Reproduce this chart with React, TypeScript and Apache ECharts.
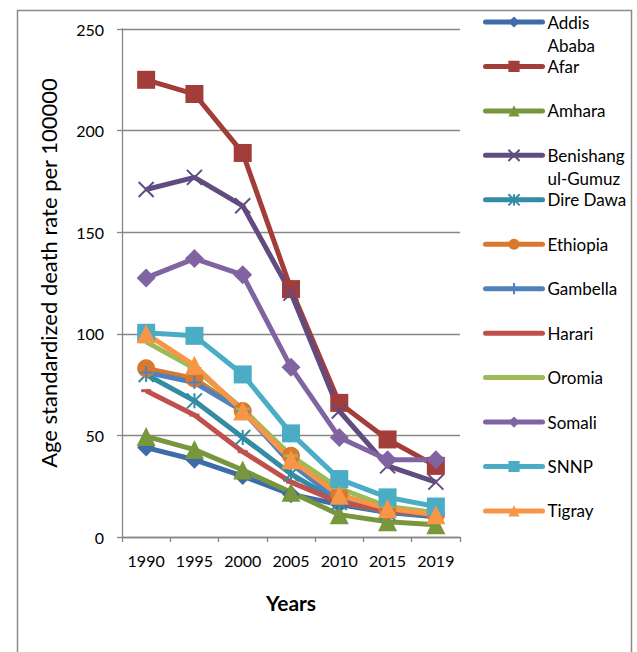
import React, { useEffect, useRef } from "react";
import * as echarts from "echarts";

const years = ["1990", "1995", "2000", "2005", "2010", "2015", "2019"];
const regionNames = [
  "Addis Ababa", "Afar", "Amhara", "Benishangul-Gumuz", "Dire Dawa", "Ethiopia",
  "Gambella", "Harari", "Oromia", "Somali", "SNNP", "Tigray",
];
const legendLabels = [
  "\nAddis\nAbaba", "Afar", "Amhara", "\nBenishang\nul-Gumuz", "Dire Dawa", "Ethiopia",
  "Gambella", "Harari", "Oromia", "Somali", "SNNP", "Tigray",
];
const addisAbaba = [44, 38, 30, 21, 16, 12, 10];
const afar = [225, 218, 189, 122, 66, 48, 35];
const amhara = [49.5, 43, 33, 22, 11, 7.5, 6];
const benishangul = [171, 177, 163, 120, 62, 35, 27];
const direDawa = [80, 67, 49, 31, 17, 12, 11];
const ethiopia = [83, 78, 62, 40, 21, 13, 11];
const gambella = [81, 76, 62, 36, 18, 13, 11];
const harari = [72, 60, 42, 27, 17, 13, 11];
const oromia = [96, 83, 63, 40, 24, 15, 12];
const somali = [127.5, 137, 129, 83.5, 49, 38, 38];
const snnp = [100.5, 99, 80, 51, 28.5, 19.5, 15];
const tigray = [100, 84.5, 62, 38, 20.5, 14, 11];
const seriesValues = [
  addisAbaba, afar, amhara, benishangul, direDawa, ethiopia,
  gambella, harari, oromia, somali, snnp, tigray,
];

const colors = [
  "#3E6CA8", "#A23D3A", "#78973D", "#624C7F", "#338CA3", "#D9782F",
  "#4F81BD", "#C0504D", "#9BBB59", "#8064A2", "#4BACC6", "#F79646",
];
const X_SYM = "path://M0,0L16,16M16,0L0,16";
const STAR_SYM = "path://M0,0L16,16M16,0L0,16M8,0L8,16";
const PLUS_SYM = "path://M8,0L8,16M0,8L16,8";
const DASH_SYM = "path://M0,0L10,0L10,3L0,3Z";
const LDASH_SYM = "path://M0,0L16,0L16,3L0,3Z";
const symbols = [
  "diamond", "rect", "triangle", X_SYM, STAR_SYM, "circle",
  PLUS_SYM, DASH_SYM, LDASH_SYM, "diamond", "rect", "triangle",
];
const symbolSizes = [18, 18, 19, 15, 15, 18, 13, 10, 14, 19, 18, 19];
const strokeSymbols = [false, false, false, true, true, false, true, false, false, false, false, false];
const hiddenLegendSymbol = [false, false, false, false, false, false, false, true, true, false, false, false];

const FONT = "Lato, 'Noto Sans', sans-serif";

export default function App() {
  const ref = useRef<HTMLDivElement>(null);
  useEffect(() => {
    if (!ref.current) return;
    const chart = echarts.init(ref.current, undefined, { renderer: "svg" });
    const series = regionNames.map((name, i) => ({
      name,
      type: "line",
      data: seriesValues[i],
      symbol: symbols[i],
      symbolSize: symbolSizes[i],
      symbolKeepAspect: true,
      showAllSymbol: true,
      lineStyle: { color: colors[i], width: 5 },
      itemStyle: strokeSymbols[i]
        ? { color: colors[i], borderColor: colors[i], borderWidth: 2 }
        : { color: colors[i], borderWidth: 0 },
      emphasis: { disabled: true },
    }));
    const legends = regionNames.map((name, i) => {
      const center = 22 + i * 44.45;
      const three = legendLabels[i].split("\n").length === 3;
      const lg: any = {
        data: [name],
        left: 478,
        top: three ? center - 39.5 : center - 15,
        orient: "vertical",
        itemWidth: 57,
        itemHeight: 14,
        selectedMode: false,
        lineStyle: { width: 5, cap: "round" },
        formatter: () => legendLabels[i],
        textStyle: {
          fontFamily: FONT,
          fontSize: 17,
          color: "#000",
          lineHeight: three ? 23 : 20,
          backgroundColor: "rgba(0,0,0,0)",
        },
      };
      if (hiddenLegendSymbol[i]) {
        lg.itemStyle = { color: "rgba(0,0,0,0)", borderWidth: 0, opacity: 0 };
      }
      return lg;
    });
    chart.setOption({
      animation: false,
      backgroundColor: "#fff",
      textStyle: { fontFamily: FONT },
      grid: { left: 122, right: 177, top: 29, bottom: 115, containLabel: false },
      graphic: [
        {
          type: "rect",
          left: 15,
          top: 8,
          shape: { width: 614, height: 700 },
          style: { fill: "none", stroke: "#8a8a8a", lineWidth: 1.5 },
          silent: true,
        },
      ],
      legend: legends,
      xAxis: {
        type: "category",
        data: years,
        boundaryGap: true,
        name: "Years",
        nameLocation: "middle",
        nameGap: 55,
        nameTextStyle: { fontFamily: FONT, fontSize: 21, fontWeight: "bold", color: "#000" },
        axisLine: { lineStyle: { color: "#878787", width: 1.3 } },
        axisTick: { show: true, length: 5, lineStyle: { color: "#878787", width: 1.3 } },
        axisLabel: { fontFamily: FONT, fontSize: 16, color: "#000", margin: 15, interval: 0 },
        splitLine: { show: false },
      },
      yAxis: {
        type: "value",
        min: 0,
        max: 250,
        interval: 50,
        name: "Age standardized death rate per 100000",
        nameLocation: "middle",
        nameGap: 63,
        nameTextStyle: { fontFamily: FONT, fontSize: 22, color: "#000", padding: [0, 0, 0, 20] },
        axisLine: { show: true, lineStyle: { color: "#878787", width: 1.3 } },
        axisTick: { show: true, length: 5, lineStyle: { color: "#878787", width: 1.3 } },
        axisLabel: { fontFamily: FONT, fontSize: 16, color: "#000", margin: 18 },
        splitLine: { show: true, lineStyle: { color: "#878787", width: 1.3 } },
      },
      series,
    });
    return () => chart.dispose();
  }, []);
  return (
    <div
      ref={ref}
      style={{ position: "fixed", left: 0, top: 0, width: 637, height: 652, background: "#fff" }}
    />
  );
}
